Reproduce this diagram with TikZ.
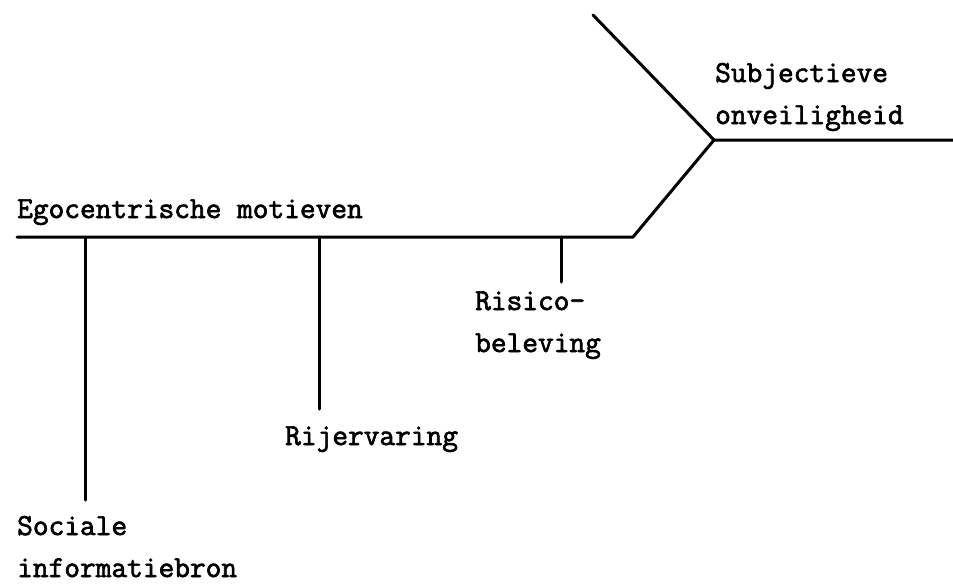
\documentclass[tikz,border=0pt]{standalone}
\usepackage{fontspec}
\setmonofont{Latin Modern Mono}[FakeBold=2.2]
\begin{document}
\begin{tikzpicture}[x=1pt,y=-1pt,
  lbl/.style={font=\ttfamily\fontsize{30.5}{42}\selectfont, inner sep=0pt, anchor=base west, align=left},
  branch/.style={line width=3pt, line cap=round, line join=round}]
  \useasboundingbox (0,0) rectangle (953,587);

  % junctions of the diagram
  \coordinate (mainL)  at (17,237);
  \coordinate (mainR)  at (633,237);
  \coordinate (hub)    at (714,140);
  \coordinate (outR)   at (953,140);
  \coordinate (topL)   at (593,15);
  \coordinate (jSoc)   at (85,237);
  \coordinate (eSoc)   at (85,500);
  \coordinate (jRij)   at (319,237);
  \coordinate (eRij)   at (319,409);
  \coordinate (jRis)   at (561,237);
  \coordinate (eRis)   at (561,282);

  % labels (anchored on the baseline of their last line)
  \node[lbl] (ego) at (17,218) {Egocentrische motieven};
  \node[lbl] (subj) at (715,124) {Subjectieve\\onveiligheid};
  \node[lbl] (ris) at (475,352) {Risico-\\beleving};
  \node[lbl] (rij) at (285,445) {Rijervaring};
  \node[lbl] (soc) at (17,577) {Sociale\\informatiebron};

  % main spine and branches
  \draw[branch] (mainL) -- (mainR) -- (hub) -- (outR);
  \draw[branch] (topL) -- (hub);
  \draw[branch] (jSoc) -- (eSoc);
  \draw[branch] (jRij) -- (eRij);
  \draw[branch] (jRis) -- (eRis);
\end{tikzpicture}
\end{document}
